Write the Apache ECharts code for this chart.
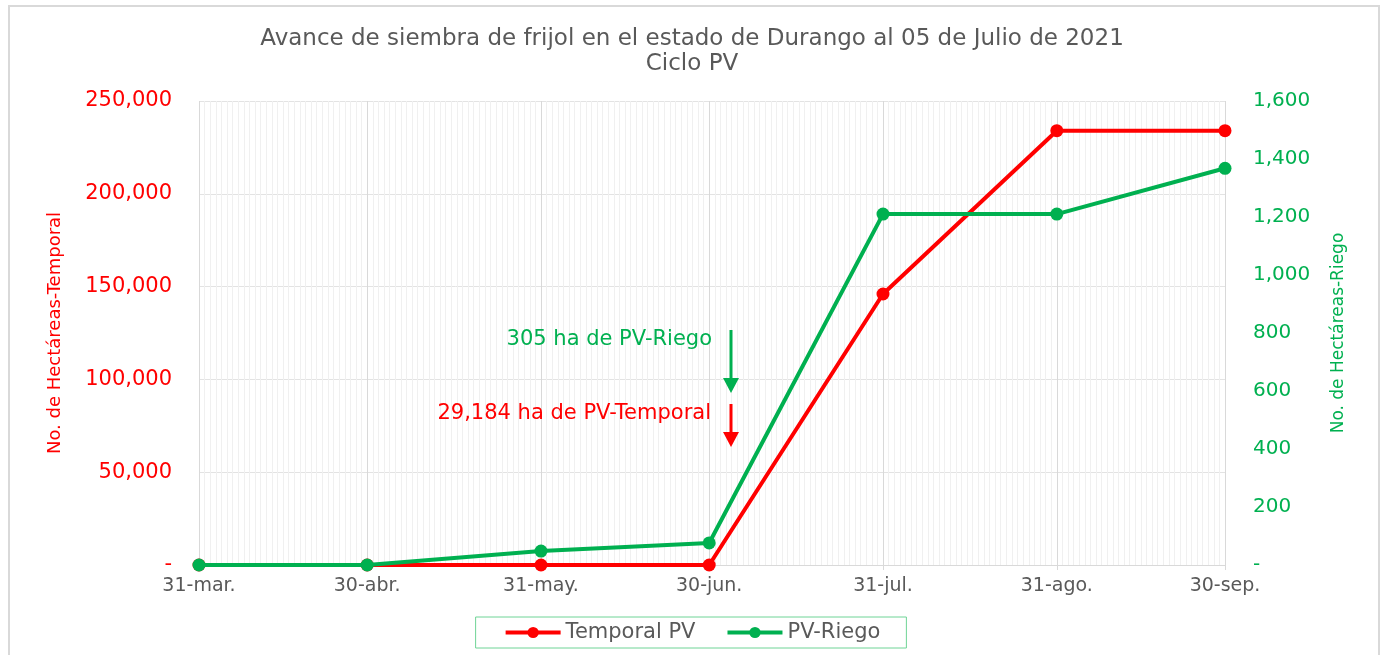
<!DOCTYPE html>
<html>
<head>
<meta charset="utf-8">
<script src="https://cdn.jsdelivr.net/npm/echarts@6/dist/echarts.min.js"></script>
<style>
	html, body { margin: 0; padding: 0; background: #fff; }
	#main { width: 1384px; height: 655px; }
</style>
</head>
<body>
<div id="main"></div>
<script>
// fechas de corte (fin de mes) y superficie sembrada
var fechas = ['31-mar.', '30-abr.', '31-may.', '30-jun.', '31-jul.', '31-ago.', '30-sep.'];
var temporalPV = [0, 0, 0, 0, 146000, 234000, 234000];
var riegoPV = [0, 0, 48, 76, 1210, 1210, 1368];

var meses = ['ene', 'feb', 'mar', 'abr', 'may', 'jun', 'jul', 'ago', 'sep', 'oct', 'nov', 'dic'];

// un dia por categoria, del 31 de marzo al 30 de septiembre
var dias = [];
var d = new Date(2021, 2, 31);
while (d <= new Date(2021, 8, 30)) {
	dias.push(d.getDate() + '-' + meses[d.getMonth()] + '.');
	d.setDate(d.getDate() + 1);
}

function serie(valores) {
	return fechas.map(function (f, i) {
		return [dias.indexOf(f), valores[i]];
	});
}

function fmt(v) {
	return v === 0 ? '-' : v.toLocaleString('en-US');
}

var esFecha = function (idx, val) {
	return fechas.indexOf(val) >= 0;
};

var font = 'DejaVu Sans';
var rojo = '#ff0000';
var verde = '#00b050';
var gris = '#595959';

var chart = echarts.init(document.getElementById('main'));

chart.setOption({
	animation: false,
	textStyle: { fontFamily: font },
	title: {
		text: 'Avance de siembra de frijol en el estado de Durango al 05 de Julio de 2021\nCiclo PV',
		left: 'center',
		top: 22,
		textStyle: { fontFamily: font, fontSize: 23, fontWeight: 'normal', color: gris, lineHeight: 25 }
	},
	legend: {
		bottom: 7,
		left: 'center',
		data: ['Temporal PV', 'PV-Riego'],
		borderColor: '#6fd496',
		borderWidth: 1,
		padding: [5, 26, 5, 28],
		itemWidth: 55,
		itemHeight: 14,
		itemGap: 30,
		lineStyle: { width: 4 },
		textStyle: { fontFamily: font, fontSize: 21, color: gris }
	},
	grid: { left: 199, right: 159, top: 101, bottom: 90, containLabel: false },
	xAxis: [{
		type: 'category',
		data: dias,
		boundaryGap: false,
		axisLine: { lineStyle: { color: '#d9d9d9' } },
		axisTick: { interval: esFecha, length: 5, lineStyle: { color: '#d9d9d9' } },
		axisLabel: { interval: esFecha, color: gris, fontSize: 19, margin: 12, fontFamily: font },
		splitLine: { show: true, interval: esFecha, lineStyle: { color: '#d9d9d9' } },
		z: 3
	}, {
		type: 'category',
		data: dias,
		boundaryGap: false,
		axisLine: { show: false },
		axisTick: { show: false },
		axisLabel: { show: false },
		splitLine: { show: true, interval: 0, lineStyle: { color: '#f0f0f0' } }
	}],
	yAxis: [{
		type: 'value',
		min: 0,
		max: 250000,
		interval: 50000,
		name: 'No. de Hectáreas-Temporal',
		nameLocation: 'middle',
		nameGap: 135,
		nameTextStyle: { color: rojo, fontSize: 18, fontFamily: font },
		axisLine: { show: false },
		axisTick: { show: false },
		axisLabel: { color: rojo, fontSize: 21, margin: 27, formatter: fmt, fontFamily: font },
		splitLine: { lineStyle: { color: '#e3e3e3' } }
	}, {
		type: 'value',
		min: 0,
		max: 1600,
		interval: 200,
		name: 'No. de Hectáreas-Riego',
		nameLocation: 'middle',
		nameGap: 105,
		nameRotate: 90,
		nameTextStyle: { color: verde, fontSize: 17, fontFamily: font },
		axisLine: { show: false },
		axisTick: { show: false },
		axisLabel: { color: verde, fontSize: 20, margin: 28, formatter: fmt, fontFamily: font },
		splitLine: { show: false }
	}],
	series: [{
		name: 'Temporal PV',
		type: 'line',
		xAxisIndex: 0,
		yAxisIndex: 0,
		data: serie(temporalPV),
		symbol: 'circle',
		symbolSize: 13,
		lineStyle: { color: rojo, width: 4 },
		itemStyle: { color: rojo },
		z: 4
	}, {
		name: 'PV-Riego',
		type: 'line',
		xAxisIndex: 0,
		yAxisIndex: 1,
		data: serie(riegoPV),
		symbol: 'circle',
		symbolSize: 13,
		lineStyle: { color: verde, width: 4 },
		itemStyle: { color: verde },
		z: 5
	}],
	graphic: [
		// marco del grafico
		{ type: 'rect', z: 0, shape: { x: 9, y: 6, width: 1370, height: 660 }, style: { fill: 'none', stroke: '#d9d9d9', lineWidth: 2 }, silent: true },
		// anotaciones
		{ type: 'text', z: 100, x: 712, y: 340, style: { text: '305 ha de PV-Riego', fill: verde, fontSize: 21, fontFamily: font, align: 'right', verticalAlign: 'middle' } },
		{ type: 'line', z: 100, shape: { x1: 731, y1: 330, x2: 731, y2: 380 }, style: { stroke: verde, lineWidth: 3 } },
		{ type: 'polygon', z: 100, shape: { points: [[723, 378], [739, 378], [731, 393]] }, style: { fill: verde, stroke: 'none' } },
		{ type: 'text', z: 100, x: 711, y: 414, style: { text: '29,184 ha de PV-Temporal', fill: rojo, fontSize: 21, fontFamily: font, align: 'right', verticalAlign: 'middle' } },
		{ type: 'line', z: 100, shape: { x1: 731, y1: 404, x2: 731, y2: 434 }, style: { stroke: rojo, lineWidth: 3 } },
		{ type: 'polygon', z: 100, shape: { points: [[723, 432], [739, 432], [731, 447]] }, style: { fill: rojo, stroke: 'none' } }
	]
});
</script>
</body>
</html>
